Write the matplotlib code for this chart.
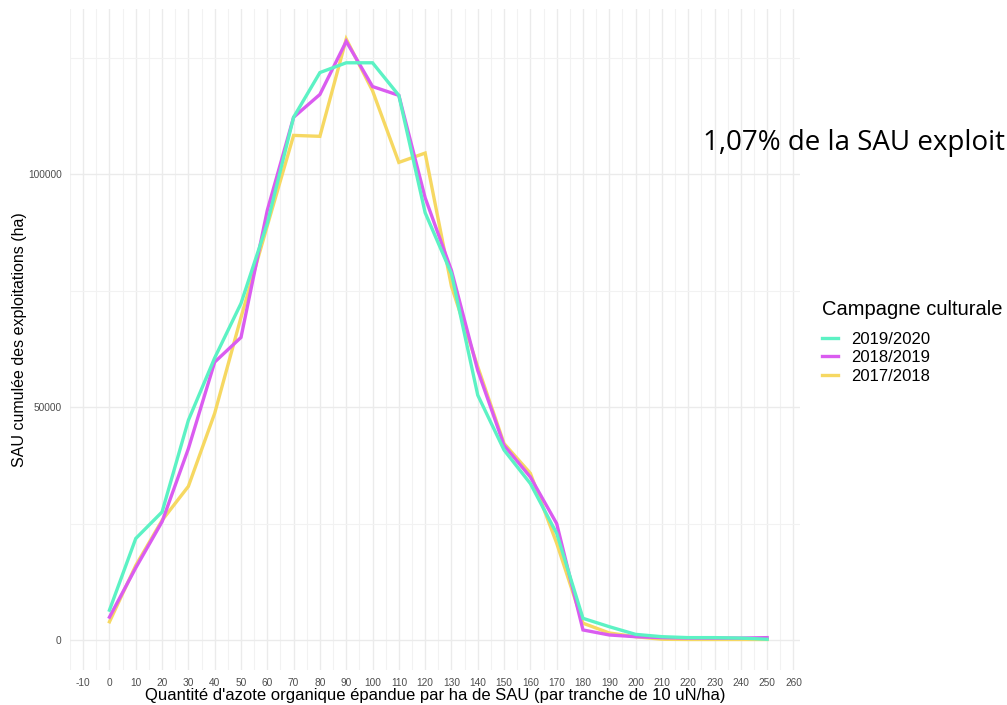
import matplotlib.pyplot as plt
import numpy as np

# quantité d'azote organique (uN/ha), tranches de 10
azote = np.arange(0, 260, 10)

sau_2019_2020 = [6400, 21800, 27500, 47200, 60600, 72300, 89500, 112300, 121900, 124000,
                 124000, 117000, 91800, 78700, 52600, 40800, 33600, 22900, 4650, 2850,
                 1200, 700, 500, 500, 400, 150]
sau_2018_2019 = [4900, 15500, 25400, 41100, 59700, 65000, 92300, 112300, 117200, 128600,
                 118900, 117000, 95000, 79400, 57900, 41800, 35000, 25000, 2150, 1070,
                 700, 500, 400, 400, 400, 500]
sau_2017_2018 = [3900, 16000, 25700, 33000, 48700, 69300, 89000, 108400, 108200, 129100,
                 118000, 102600, 104600, 76000, 58700, 42200, 35800, 20800, 3600, 1500,
                 700, 150, 100, 100, 100, 100]

campagnes = ["2019/2020", "2018/2019", "2017/2018"]
couleurs = {"2019/2020": "#5CF2C4", "2018/2019": "#DA5CF0", "2017/2018": "#F6D862"}
series = {"2019/2020": sau_2019_2020, "2018/2019": sau_2018_2019, "2017/2018": sau_2017_2018}

plt.rcParams['font.family'] = ['Liberation Sans', 'DejaVu Sans']

fig = plt.figure(figsize=(10.07, 7.05), dpi=100)
ax = fig.add_axes([70 / 1007, 1 - 670 / 705, 730 / 1007, 661 / 705])

# ordre de tracé : jaune dessous, vert dessus
lignes = {}
for c in ["2017/2018", "2018/2019", "2019/2020"]:
    lignes[c], = ax.plot(azote, series[c], color=couleurs[c], lw=2.4,
                         solid_joinstyle='miter', zorder=3)

ymax = max(max(s) for s in series.values())
ax.set_xlim(-12.5, 262.5)
ax.set_ylim(-0.05 * ymax, 1.05 * ymax)

ax.set_xticks(np.arange(-10, 261, 10))
ax.set_xticklabels([str(v) for v in range(-10, 261, 10)])
ax.set_xticks(np.arange(-15, 265, 10), minor=True)
ax.set_yticks([0, 50000, 100000])
ax.set_yticks([25000, 75000, 125000], minor=True)
ax.set_yticklabels(["0", "50000", "100000"])

ax.grid(True, which='major', color='#EBEBEB', lw=1.0, zorder=0)
ax.grid(True, which='minor', color='#F2F2F2', lw=0.8, zorder=0)
ax.tick_params(which='both', length=0, labelsize=7.3, labelcolor='#4D4D4D', pad=6)
for s in ax.spines.values():
    s.set_visible(False)

ax.set_xlabel("Quantité d'azote organique épandue par ha de SAU (par tranche de 10 uN/ha)",
              fontsize=12, labelpad=0)
ax.set_ylabel("SAU cumulée des exploitations (ha)", fontsize=11.5, labelpad=1)

leg = fig.legend([lignes[c] for c in campagnes], campagnes,
                 loc='upper left', bbox_to_anchor=(807 / 1007, 1 - 285 / 705),
                 frameon=False, title="Campagne culturale", title_fontsize=14.5,
                 fontsize=12, handlelength=0.95, handletextpad=0.8,
                 labelspacing=0.22, alignment='left')
leg._legend_box.sep = 9

fig.text(703 / 1007, 1 - 143 / 705, "1,07% de la SAU exploit",
         fontsize=20, family=['Open Sans', 'DejaVu Sans'], va='center', ha='left')

fig.savefig("out.png", dpi=100)
